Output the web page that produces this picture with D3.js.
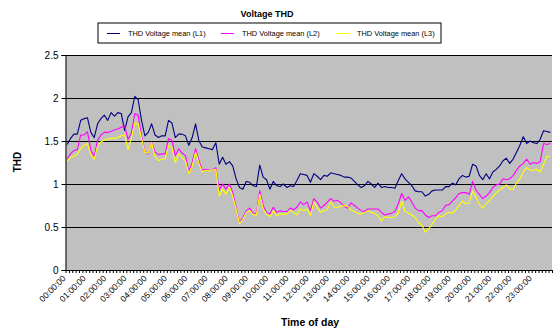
<!DOCTYPE html>
<html>
<head>
<meta charset="utf-8">
<script src="https://cdn.jsdelivr.net/npm/d3@7/dist/d3.min.js"></script>
<style>
  html, body { margin: 0; padding: 0; background: #fff; }
  svg { display: block; font-family: Arial, "Liberation Sans", sans-serif; }
</style>
</head>
<body>
<svg id="chart" width="554" height="334"></svg>
<script>
// Hourly tick labels (one label every 6 samples of 10 minutes)
const hourLabels = ["00:00:00","01:00:00","02:00:00","03:00:00","04:00:00","05:00:00",
  "06:00:00","07:00:00","08:00:00","09:00:00","10:00:00","11:00:00",
  "12:00:00","13:00:00","14:00:00","15:00:00","16:00:00","17:00:00",
  "18:00:00","19:00:00","20:00:00","21:00:00","22:00:00","23:00:00"];

const yTicks = [0, 0.5, 1, 1.5, 2, 2.5];

const seriesNames = ["THD Voltage mean (L1)", "THD Voltage mean (L2)", "THD Voltage mean (L3)"];
const seriesColors = ["#000080", "#ff00ff", "#ffff00"];

// 10-minute mean THD per phase
const l1 = [
  1.46,1.53,1.58,1.58,1.74,1.76,1.77,1.60,1.54,1.70,1.76,1.80,
  1.74,1.83,1.79,1.83,1.82,1.62,1.78,1.83,2.02,1.98,1.74,1.56,
  1.60,1.70,1.57,1.54,1.56,1.56,1.74,1.71,1.54,1.58,1.58,1.56,
  1.45,1.54,1.70,1.50,1.43,1.42,1.41,1.40,1.48,1.23,1.31,1.23,
  1.26,1.21,1.06,0.96,0.94,1.03,1.02,0.98,0.97,1.22,1.08,1.05,
  0.94,1.03,0.98,0.97,1.00,0.96,0.98,0.97,1.04,1.12,1.11,1.10,
  1.02,1.12,1.09,1.05,1.10,1.09,1.13,1.12,1.11,1.10,1.08,1.08,
  1.07,1.03,0.99,0.96,0.98,1.03,1.00,0.96,1.01,0.96,0.97,0.96,
  0.96,0.95,1.04,1.12,1.06,1.02,0.98,0.92,0.91,0.91,0.86,0.88,
  0.92,0.93,0.93,0.93,0.97,0.97,1.01,0.99,1.06,1.10,1.08,1.09,
  1.23,1.21,1.10,1.05,1.12,1.06,1.14,1.17,1.21,1.27,1.30,1.24,
  1.29,1.37,1.45,1.55,1.47,1.50,1.48,1.47,1.52,1.62,1.61,1.60
];
const l2 = [
  1.29,1.35,1.39,1.40,1.57,1.57,1.61,1.39,1.32,1.51,1.57,1.60,
  1.60,1.61,1.63,1.64,1.66,1.68,1.52,1.59,1.82,1.80,1.56,1.38,
  1.35,1.49,1.37,1.34,1.35,1.35,1.53,1.51,1.33,1.41,1.36,1.33,
  1.14,1.25,1.41,1.27,1.16,1.17,1.16,1.16,1.19,0.93,1.00,0.94,
  1.00,0.90,0.73,0.55,0.61,0.69,0.72,0.66,0.66,0.92,0.75,0.67,
  0.65,0.73,0.67,0.69,0.68,0.68,0.72,0.70,0.73,0.79,0.76,0.79,
  0.69,0.83,0.79,0.72,0.75,0.79,0.83,0.80,0.81,0.78,0.74,0.72,
  0.78,0.75,0.72,0.69,0.68,0.71,0.71,0.71,0.71,0.67,0.64,0.65,
  0.66,0.68,0.77,0.89,0.81,0.85,0.79,0.72,0.69,0.69,0.64,0.61,
  0.63,0.63,0.67,0.69,0.75,0.76,0.80,0.84,0.89,0.90,0.90,0.88,
  1.03,0.93,0.88,0.83,0.86,0.90,0.96,0.99,1.00,1.06,1.05,1.06,
  1.10,1.16,1.21,1.24,1.29,1.23,1.25,1.24,1.26,1.47,1.46,1.47
];
const l3 = [
  1.26,1.31,1.32,1.35,1.41,1.45,1.47,1.34,1.29,1.44,1.49,1.51,
  1.52,1.53,1.53,1.54,1.56,1.57,1.40,1.53,1.71,1.70,1.53,1.37,
  1.36,1.48,1.32,1.27,1.29,1.29,1.45,1.42,1.25,1.35,1.31,1.27,
  1.12,1.21,1.37,1.24,1.14,1.16,1.15,1.16,1.17,0.86,0.94,0.88,
  0.96,0.86,0.71,0.54,0.59,0.67,0.69,0.64,0.64,0.88,0.71,0.65,
  0.62,0.69,0.63,0.65,0.65,0.65,0.69,0.67,0.64,0.71,0.69,0.71,
  0.63,0.79,0.73,0.67,0.69,0.70,0.79,0.73,0.73,0.74,0.75,0.74,
  0.70,0.68,0.66,0.65,0.67,0.69,0.67,0.66,0.63,0.57,0.62,0.61,
  0.61,0.62,0.66,0.80,0.68,0.66,0.64,0.61,0.55,0.52,0.44,0.48,
  0.53,0.59,0.63,0.62,0.65,0.67,0.66,0.70,0.75,0.80,0.77,0.78,
  0.92,0.85,0.76,0.72,0.77,0.81,0.85,0.90,0.93,0.96,0.99,0.94,
  0.94,1.01,1.06,1.14,1.19,1.16,1.16,1.17,1.14,1.23,1.32,1.32
];

const svg = d3.select("#chart");
const plot = { left: 65.5, right: 552, top: 55, bottom: 270 };
const n = l1.length;
const perLabel = n / hourLabels.length;

const x = d3.scaleBand().domain(d3.range(n)).range([plot.left, plot.right]).padding(0);
const xEdge = d3.scaleLinear().domain([0, n]).range([plot.left, plot.right]);
const y = d3.scaleLinear().domain([0, 2.5]).range([plot.bottom, plot.top]);
const cx = i => x(i) + x.bandwidth() / 2;

// Title
svg.append("text").attr("x", 267).attr("y", 17).attr("text-anchor", "middle")
  .attr("font-size", 9).attr("font-weight", "bold").text("Voltage THD");

// Legend
const lg = svg.append("g");
lg.append("rect").attr("x", 98).attr("y", 23).attr("width", 343).attr("height", 20)
  .attr("fill", "#fff").attr("stroke", "#000").attr("stroke-width", 1);
const legendX = [107, 221, 336];
seriesNames.forEach((name, k) => {
  lg.append("line").attr("x1", legendX[k]).attr("x2", legendX[k] + 13)
    .attr("y1", 33.5).attr("y2", 33.5).attr("stroke", seriesColors[k]).attr("stroke-width", 1);
  lg.append("text").attr("x", legendX[k] + 21).attr("y", 36).attr("font-size", 7.4)
    .attr("fill", "#000").text(name);
});

// Plot area
svg.append("rect").attr("x", plot.left).attr("y", plot.top)
  .attr("width", plot.right - plot.left).attr("height", plot.bottom - plot.top)
  .attr("fill", "#c0c0c0");

// Horizontal gridlines
svg.append("g").selectAll("line").data(yTicks.filter(d => d > 0)).join("line")
  .attr("x1", plot.left).attr("x2", plot.right)
  .attr("y1", d => Math.round(y(d)) + 0.5).attr("y2", d => Math.round(y(d)) + 0.5)
  .attr("stroke", "#000").attr("stroke-width", 1);

// Y axis
const yAxis = svg.append("g").attr("transform", `translate(${plot.left},0)`)
  .call(d3.axisLeft(y).tickValues(yTicks).tickFormat(d3.format("")).tickSize(4).tickPadding(3));
yAxis.select(".domain").attr("stroke", "#000");
yAxis.selectAll("text").attr("font-size", 10).attr("fill", "#000")
  .attr("font-family", "Arial, 'Liberation Sans', sans-serif");

svg.append("text").attr("transform", "translate(21,162) rotate(-90)")
  .attr("text-anchor", "middle").attr("font-size", 10).attr("font-weight", "bold").text("THD");

// X axis: a tick mark at every category boundary
const xAxis = svg.append("g").attr("transform", `translate(0,${plot.bottom})`)
  .call(d3.axisBottom(xEdge).tickValues(d3.range(n + 1)).tickFormat("").tickSize(3).tickSizeOuter(0));
xAxis.select(".domain").attr("stroke", "#000");
xAxis.selectAll(".tick line").attr("stroke", "#000");

// Hour labels, rotated
svg.append("g").selectAll("text").data(hourLabels).join("text")
  .attr("transform", (d, h) => `translate(${cx(h * perLabel) - 1},${plot.bottom + 9}) rotate(-45)`)
  .attr("text-anchor", "end").attr("font-size", 8.5).attr("fill", "#000").text(d => d);

svg.append("text").attr("x", 310).attr("y", 326).attr("text-anchor", "middle")
  .attr("font-size", 10.5).attr("font-weight", "bold").text("Time of day");

// Series lines
const line = d3.line().x((d, i) => cx(i)).y(d => y(d));
[l1, l2, l3].forEach((vals, k) => {
  svg.append("path").datum(vals).attr("d", line)
    .attr("fill", "none").attr("stroke", seriesColors[k]).attr("stroke-width", 1.1)
    .attr("stroke-linejoin", "round");
});
</script>
</body>
</html>
